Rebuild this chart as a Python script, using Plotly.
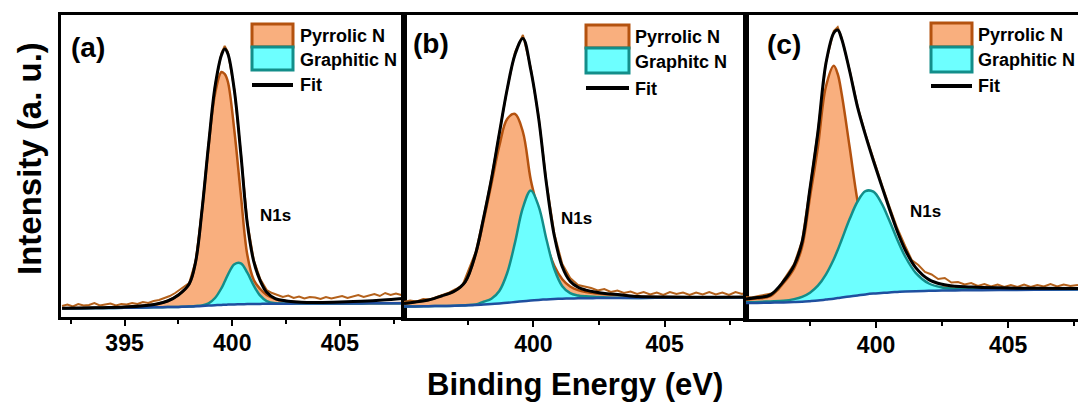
import plotly.graph_objects as go

# ---------------- data ----------------
# Panel (a)
E_a = [392.1, 393, 394, 395, 396, 396.5, 397, 397.5, 398, 398.3, 398.6, 398.9, 399.2, 399.5, 399.65, 399.8,
       400.1, 400.4, 400.7, 401.0, 401.3, 401.6, 402.0, 402.5, 403.0, 403.5, 404.0, 405.0, 406.0, 407.0, 407.9]
bg_a = [8.7, 8.8, 9.0, 9.2, 9.5, 9.7, 9.9, 10.1, 10.4, 10.7, 11.0, 11.4, 11.8, 12.1, 12.3, 12.4,
        12.6, 12.8, 12.9, 13.0, 13.1, 13.2, 13.3, 13.3, 13.4, 13.4, 13.5, 13.5, 13.6, 13.7, 13.8]
pyr_a = [8.7, 8.9, 9.3, 9.9, 11.5, 13, 16, 22, 33, 55, 107, 170, 223, 245, 243, 235,
         186, 122, 62, 37, 28, 22, 18, 16, 15, 14.4, 14, 13.6, 13.7, 13.8, 13.9]
gra_a = [8.7, 8.8, 9.0, 9.2, 9.5, 9.7, 9.9, 10.1, 10.4, 11.0, 11.6, 13.7, 19, 28.9, 35.5, 42.4,
         52.8, 53.7, 44.3, 31.4, 21.3, 15.9, 13.7, 13.4, 13.4, 13.4, 13.5, 13.5, 13.6, 13.7, 13.8]
fit_a = [8.7, 8.9, 9.3, 9.9, 11.5, 13, 16, 22, 33, 55.3, 107.6, 172.3, 230.2, 262, 268, 263,
         226.2, 162.9, 93.4, 55.4, 36.2, 24.7, 18.4, 16.1, 15.0, 14.6, 14.5, 15.0, 15.8, 17.0, 18.5]
raw_x_a = [392.1, 392.35, 392.6, 392.85, 393.1, 393.35, 393.6, 393.85, 394.1, 394.35, 394.6, 394.85,
           395.1, 395.35, 395.6, 395.85, 396.1, 396.35, 396.6, 396.85, 397.1, 397.35, 397.6,
           398, 398.3, 398.6, 398.9, 399.2, 399.5, 399.65, 399.8, 400.1, 400.4, 400.7, 401.0, 401.3, 401.6,
           401.85, 402.1, 402.35, 402.6, 402.85, 403.1, 403.35, 403.6, 403.85, 404.1, 404.35, 404.6, 404.85,
           405.1, 405.35, 405.6, 405.85, 406.1, 406.35, 406.6, 406.85, 407.1, 407.35, 407.6, 407.85]
raw_y_a = [11, 12.5, 10.5, 13, 11.5, 12, 14, 11.5, 12.5, 13.5, 11.5, 13,
           12.5, 14, 13, 15, 14, 16, 17, 19, 21, 24, 28,
           34, 56, 108, 173, 231, 264, 271, 265, 227, 164, 95, 57, 38, 27,
           24, 22, 20, 21.5, 19, 20.5, 18.5, 20, 19.5, 18, 20, 18.5, 19.5,
           21, 19, 20.5, 22, 20, 21.5, 23, 21, 24, 22, 23.5, 22]

# Panel (b)
E_b = [395.07, 395.5, 396, 396.5, 397, 397.4, 397.8, 398.1, 398.4, 398.7, 399.0, 399.3, 399.6, 399.9,
       400.2, 400.5, 400.8, 401.1, 401.4, 401.7, 402.0, 402.4, 402.8, 403.3, 404, 405, 406, 407, 408.1]
bg_b = [11.5, 11.6, 11.8, 12.0, 12.3, 12.6, 13.0, 13.4, 13.9, 14.5, 15.2, 16.0, 16.8, 17.5,
        18.1, 18.6, 19.0, 19.3, 19.5, 19.7, 19.8, 19.9, 20.0, 20.0, 20.1, 20.2, 20.3, 20.4, 20.6]
pyr_b = [14.5, 16, 18, 22, 27, 36, 64, 97, 134, 172, 199, 204, 186, 138,
         106, 74, 52, 38.8, 31.5, 27.9, 26, 24.5, 23.7, 22.9, 21.5, 21, 20.8, 20.7, 20.8]
gra_b = [11.5, 11.6, 11.8, 12.0, 12.3, 12.8, 13.5, 16.3, 19.2, 27, 45, 75.6, 110.4, 127.5,
         111.7, 78.2, 48.7, 31.8, 24.8, 22.6, 21.7, 21.1, 20.6, 20.3, 20.1, 20.2, 20.3, 20.4, 20.6]
fit_b = [14.5, 16, 18, 22, 27, 36.2, 64.5, 100, 139, 184.5, 228.7, 263.6, 279.6, 248,
         199.6, 133.6, 81.7, 51.3, 36.8, 30.8, 27.9, 25.7, 24.3, 23.2, 21.5, 21, 20.8, 20.8, 21]
raw_x_b = [395.07, 395.3, 395.55, 395.8, 396.05, 396.3, 396.55, 396.8, 397.05, 397.3,
           397.8, 398.1, 398.4, 398.7, 399.0, 399.3, 399.6, 399.9, 400.2, 400.5, 400.8, 401.1, 401.4,
           401.7, 401.95, 402.2, 402.45, 402.7, 402.95, 403.2, 403.45, 403.7, 403.95, 404.2, 404.45,
           404.7, 404.95, 405.2, 405.45, 405.7, 405.95, 406.2, 406.45, 406.7, 406.95, 407.2, 407.45,
           407.7, 407.95, 408.1]
raw_y_b = [16, 17.5, 16.5, 19, 18.5, 21, 23, 25.5, 29, 33,
           66, 101, 140, 185, 229, 266, 283, 250, 201, 135, 84, 54, 40,
           33, 31.5, 30, 27.5, 29, 26, 27.5, 25, 26.5, 24, 26, 23.5,
           25.5, 23, 26, 24, 25.5, 23, 25.5, 23.5, 26, 23.5, 25.5, 23,
           26, 24, 25.5]

# Panel (c)
E_c = [395.08, 395.5, 396, 396.5, 396.9, 397.2, 397.5, 397.8, 398.1, 398.4, 398.55, 398.7, 399.0, 399.3,
       399.6, 399.9, 400.2, 400.5, 400.8, 401.1, 401.5, 402, 402.5, 403, 403.5, 404, 405, 406, 407.64]
bg_c = [16, 16.1, 16.3, 16.6, 16.9, 17.2, 17.8, 18.5, 19.4, 20.3, 20.9, 21.5, 22.6, 23.6,
        24.6, 25.4, 26.0, 26.6, 27.0, 27.4, 27.8, 28.2, 28.5, 28.6, 28.7, 28.8, 29, 29.2, 29.4]
pyr_c = [19.3, 20.4, 22.8, 36, 50.7, 72, 121.8, 172, 232, 253.3, 245, 225, 172, 118,
         80.6, 56.4, 44, 38.3, 35.4, 34.1, 33, 32.1, 31.6, 31.2, 30.9, 30.7, 30.4, 30.3, 30.2]
gra_c = [16.8, 17.1, 17.6, 18.3, 19.9, 22.1, 26.3, 33.3, 44.4, 59.8, 69, 79.2, 99.9, 117.5,
         127.9, 127.3, 116.1, 98.8, 79.6, 62.6, 46.2, 35.5, 31.6, 30.2, 29.9, 29.7, 29.6, 29.6, 29.7]
fit_c = [20.1, 21.4, 24.1, 37.7, 53.7, 76.9, 130.3, 186.8, 255, 286, 289, 280, 248, 211.9,
         183.9, 158.3, 134.1, 110.5, 88, 69.3, 51.4, 39.4, 34.7, 32.8, 32.1, 31.6, 31, 30.7, 30.5]
raw_x_c = [395.08, 395.3, 395.55, 395.8, 396.05, 396.3,
           396.5, 396.9, 397.2, 397.5, 397.8, 398.1, 398.4, 398.55, 398.7, 399.0, 399.3, 399.6, 399.9,
           400.2, 400.5, 400.8, 401.1,
           401.35, 401.6, 401.85, 402.1, 402.35, 402.6, 402.85, 403.1, 403.35, 403.6, 403.85, 404.1,
           404.35, 404.6, 404.85, 405.1, 405.35, 405.6, 405.85, 406.1, 406.35, 406.6, 406.85, 407.1,
           407.35, 407.64]
raw_y_c = [22, 21.5, 23, 24, 25.5, 29,
           39, 55, 78, 131, 188, 256, 288, 292, 281, 249, 213, 185, 160,
           136, 113, 91, 73,
           59, 54, 47, 44.5, 40, 41, 36.5, 37, 34.5, 36, 33, 35,
           32.5, 34.5, 32, 34, 32, 34.5, 32, 34, 32.5, 35, 32.5, 34.5,
           33, 34]

x_ticks = [395, 400, 405]
x_minor = [392.5, 397.5, 402.5, 407.5]
panel_tags = ["(a)", "(b)", "(c)"]
legend_labels = [["Pyrrolic N", "Graphitic N", "Fit"],
                 ["Pyrrolic N", "Graphitc N", "Fit"],
                 ["Pyrrolic N", "Graphitic N", "Fit"]]
peak_label = "N1s"
x_title = "Binding Energy (eV)"
y_title = "Intensity (a. u.)"

# ---------------- styling / layout ----------------
W, H = 1078, 407
def fx(px):
    return px / W
def fy(py):
    return 1 - py / H

ORANGE_FILL = "#F9AF7E"
ORANGE_LINE = "#B4520F"
CYAN_FILL = "#6DFFFF"
CYAN_LINE = "#138E8A"
BLUE = "#1F4F9F"
RAW = "#B4611B"

SANS = "Liberation Sans, Arial, sans-serif"

panels = [
    dict(E=E_a, bg=bg_a, pyr=pyr_a, gra=gra_a, fit=fit_a, rx=raw_x_a, ry=raw_y_a,
         dom_x=(61, 403.5), bottom=317, xr=[392.05, 407.95], mirror=True),
    dict(E=E_b, bg=bg_b, pyr=pyr_b, gra=gra_b, fit=fit_b, rx=raw_x_b, ry=raw_y_b,
         dom_x=(403.5, 746), bottom=318, xr=[395.05, 408.1], mirror=True),
    dict(E=E_c, bg=bg_c, pyr=pyr_c, gra=gra_c, fit=fit_c, rx=raw_x_c, ry=raw_y_c,
         dom_x=(746, 1078), bottom=319, xr=[395.08, 407.64], mirror=False),
]
TOP = 15

fig = go.Figure()
layout = {}
for i, p in enumerate(panels):
    n = "" if i == 0 else str(i + 1)
    xa, ya = "x" + n, "y" + n
    sp = dict(mode="lines", xaxis=xa, yaxis=ya, showlegend=False, hoverinfo="skip")
    # pyrrolic filled down to background
    fig.add_trace(go.Scatter(x=p["E"], y=p["bg"], line=dict(width=0, shape="spline"), **sp))
    fig.add_trace(go.Scatter(x=p["E"], y=p["pyr"], fill="tonexty", fillcolor=ORANGE_FILL,
                             line=dict(color=ORANGE_LINE, width=2.5, shape="spline"), **sp))
    # graphitic filled down to background
    fig.add_trace(go.Scatter(x=p["E"], y=p["bg"], line=dict(width=0, shape="spline"), **sp))
    fig.add_trace(go.Scatter(x=p["E"], y=p["gra"], fill="tonexty", fillcolor=CYAN_FILL,
                             line=dict(color=CYAN_LINE, width=2.5, shape="spline"), **sp))
    # background line
    fig.add_trace(go.Scatter(x=p["E"], y=p["bg"], line=dict(color=BLUE, width=2.5, shape="spline"), **sp))
    # raw data
    fig.add_trace(go.Scatter(x=p["rx"], y=p["ry"], line=dict(color=RAW, width=2), **sp))
    # fit envelope
    fig.add_trace(go.Scatter(x=p["E"], y=p["fit"], line=dict(color="black", width=3, shape="spline"), **sp))

    layout["xaxis" + n] = dict(
        domain=[fx(p["dom_x"][0]), fx(p["dom_x"][1])], range=p["xr"], anchor=ya,
        tickvals=x_ticks, ticks="outside", ticklen=6, tickwidth=2, tickcolor="black",
        minor=dict(tickvals=x_minor, ticks="outside", ticklen=4, tickwidth=2, tickcolor="black"),
        showline=True, linewidth=3, linecolor="black", mirror=True,
        showgrid=False, zeroline=False, ticklabelstandoff=-3,
        tickfont=dict(family=SANS, size=23, color="black", weight=700),
    )
    height = p["bottom"] - TOP
    layout["yaxis" + n] = dict(
        domain=[fy(p["bottom"]), fy(TOP)], range=[0, height], anchor=xa,
        showticklabels=False, ticks="", showline=True, linewidth=3, linecolor="black",
        mirror=p["mirror"], showgrid=False, zeroline=False,
    )

# legends drawn as boxes + text (per panel)
legend_pos = [
    dict(x0=252, x1=293, y0=24, y1=47, y2=70, yf=85, tx=298, ty=[36, 60, 85]),
    dict(x0=586, x1=629, y0=25, y1=48, y2=73, yf=88, tx=633, ty=[37, 62, 89]),
    dict(x0=931, x1=972, y0=23, y1=47, y2=72, yf=86, tx=976, ty=[35, 60, 86]),
]
shapes = []
annotations = []
for i, lp in enumerate(legend_pos):
    shapes.append(dict(type="rect", xref="paper", yref="paper",
                       x0=fx(lp["x0"]), x1=fx(lp["x1"]), y0=fy(lp["y1"]), y1=fy(lp["y0"]),
                       fillcolor=ORANGE_FILL, line=dict(color=ORANGE_LINE, width=3)))
    shapes.append(dict(type="rect", xref="paper", yref="paper",
                       x0=fx(lp["x0"]), x1=fx(lp["x1"]), y0=fy(lp["y2"]), y1=fy(lp["y1"]),
                       fillcolor=CYAN_FILL, line=dict(color=CYAN_LINE, width=3)))
    shapes.append(dict(type="line", xref="paper", yref="paper",
                       x0=fx(lp["x0"]), x1=fx(lp["x1"]), y0=fy(lp["yf"]), y1=fy(lp["yf"]),
                       line=dict(color="black", width=4)))
    for lab, ty in zip(legend_labels[i], lp["ty"]):
        annotations.append(dict(text=lab, xref="paper", yref="paper", x=fx(lp["tx"]), y=fy(ty),
                                xanchor="left", yanchor="middle", showarrow=False,
                                font=dict(family=SANS, size=18, color="black", weight=700)))

tag_pos = [(88, 47), (431, 43), (784, 44)]
for tag, (tx, ty) in zip(panel_tags, tag_pos):
    annotations.append(dict(text=tag, xref="paper", yref="paper", x=fx(tx), y=fy(ty),
                            xanchor="center", yanchor="middle", showarrow=False,
                            font=dict(family=SANS, size=28, color="black", weight=700)))

n1s_pos = [(275, 215), (576, 218), (925, 211)]
for (tx, ty) in n1s_pos:
    annotations.append(dict(text=peak_label, xref="paper", yref="paper", x=fx(tx), y=fy(ty),
                            xanchor="center", yanchor="middle", showarrow=False,
                            font=dict(family=SANS, size=17, color="black", weight=700)))

annotations.append(dict(text=x_title, xref="paper", yref="paper", x=fx(575), y=fy(384),
                        xanchor="center", yanchor="middle", showarrow=False,
                        font=dict(family=SANS, size=31, color="black", weight=700)))
annotations.append(dict(text=y_title, xref="paper", yref="paper", x=fx(29), y=fy(159),
                        xanchor="center", yanchor="middle", showarrow=False, textangle=-90,
                        font=dict(family=SANS, size=33, color="black", weight=700)))

fig.update_layout(
    width=W, height=H, margin=dict(l=0, r=0, t=0, b=0),
    paper_bgcolor="white", plot_bgcolor="white",
    shapes=shapes, annotations=annotations, **layout,
)

fig.write_html("out.html")
